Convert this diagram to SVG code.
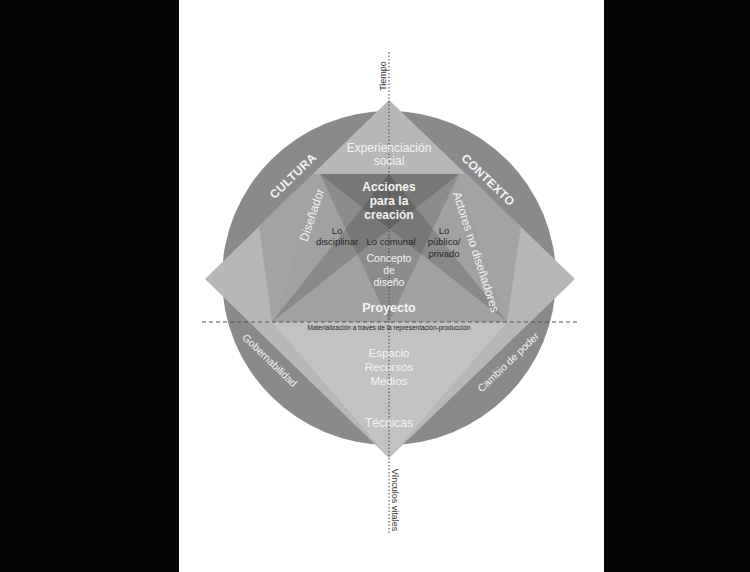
<svg xmlns="http://www.w3.org/2000/svg" width="750" height="572" viewBox="0 0 750 572">
<style>
text{font-family:"Liberation Sans",Arial,sans-serif;text-anchor:middle}
.w{fill:#f3f3f3}
.dk{fill:#262626}
.b{font-weight:bold}
.ov{fill:#000}
</style>
<rect width="750" height="572" fill="#fff"/>
<rect x="0" y="0" width="179" height="572" fill="#050505"/>
<rect x="604" y="0" width="146" height="572" fill="#050505"/>
<g id="circle"><circle cx="389" cy="278" r="167" fill="#8a8a8a"/></g>
<g id="diamond">
<polygon points="389,100 575,279 389,458 205,279" fill="#b7b7b7"/>
<polygon points="272,322 507,322 389,458" fill="#c2c2c2"/>
<polygon points="272,322 259,226 313,174 320,174" fill="#a3a3a3"/>
<polygon points="507,322 521,227 467,174 459,174" fill="#a3a3a3"/>
</g>
<g id="trapezoid">
<polygon points="320,174 459,174 507,322 272,322" fill="#a1a1a1"/>
<polygon class="ov" points="320,174 459,174 389,322" fill-opacity="0.13"/>
<polygon class="ov" points="320,174 389,174 507,322" fill-opacity="0.15"/>
<polygon class="ov" points="389,174 459,174 272,322" fill-opacity="0.15"/>
</g>
<g id="connectors">
<line x1="389" y1="52" x2="389" y2="535" stroke="#444" stroke-width="1" stroke-dasharray="1.5 2"/>
<line x1="202" y1="322" x2="578" y2="322" stroke="#555" stroke-width="1" stroke-dasharray="4 3"/>
</g>
<g id="labels-axes">
<text transform="translate(386,76) rotate(-90)" font-size="9" fill="#333">Tiempo</text>
<text transform="translate(392,500) rotate(90)" font-size="9" fill="#333">Vínculos vitales</text>
<text x="389" y="330" font-size="6.5" fill="#222">Materialización a través de la representación-producción</text>
</g>
<g id="cultura"><text class="w b" transform="translate(293,176) rotate(-44)" y="4" font-size="12" letter-spacing="0.3">CULTURA</text></g>
<g id="contexto"><text class="w b" transform="translate(488,180) rotate(44)" y="4" font-size="12" letter-spacing="0.3">CONTEXTO</text></g>
<g id="gobernabilidad"><text class="w" transform="translate(270,360) rotate(44)" y="4" font-size="10.5">Gobernabilidad</text></g>
<g id="cambio"><text class="w" transform="translate(508,362) rotate(-44)" y="4" font-size="10.5">Cambio de poder</text></g>
<g id="experienciacion"><text class="w" x="389" y="152" font-size="12">Experienciación</text><text class="w" x="389" y="165" font-size="12">social</text></g>
<g id="acciones"><text class="w b" x="389" y="190.5" font-size="12">Acciones</text><text class="w b" x="389" y="204.5" font-size="12">para la</text><text class="w b" x="389" y="218.5" font-size="12">creación</text></g>
<g id="disenador"><text class="w" transform="translate(312,215) rotate(-72)" y="4" font-size="12">Diseñador</text></g>
<g id="actores"><text class="w" transform="translate(476,252) rotate(72)" y="4" font-size="12">Actores no diseñadores</text></g>
<g id="disciplinar"><text class="dk" x="337" y="233.5" font-size="9.5">Lo</text><text class="dk" x="337" y="245" font-size="9.5">disciplinar</text></g>
<g id="comunal"><text class="dk" x="391" y="245" font-size="9.5">Lo comunal</text></g>
<g id="publico"><text class="dk" x="444" y="233.5" font-size="9.5">Lo</text><text class="dk" x="444" y="245" font-size="9.5">público/</text><text class="dk" x="444" y="257" font-size="9.5">privado</text></g>
<g id="concepto"><text class="w" x="389" y="261.5" font-size="10.5">Concepto</text><text class="w" x="389" y="273.5" font-size="10.5">de</text><text class="w" x="389" y="285.5" font-size="10.5">diseño</text></g>
<g id="proyecto"><text class="w b" x="389" y="312" font-size="12.5">Proyecto</text></g>
<g id="espacio"><text class="w" x="389" y="357" font-size="11.5">Espacio</text><text class="w" x="389" y="371" font-size="11.5">Recursos</text><text class="w" x="389" y="385" font-size="11.5">Medios</text></g>
<g id="tecnicas"><text class="w" x="389" y="427" font-size="12">Técnicas</text></g>
</svg>
